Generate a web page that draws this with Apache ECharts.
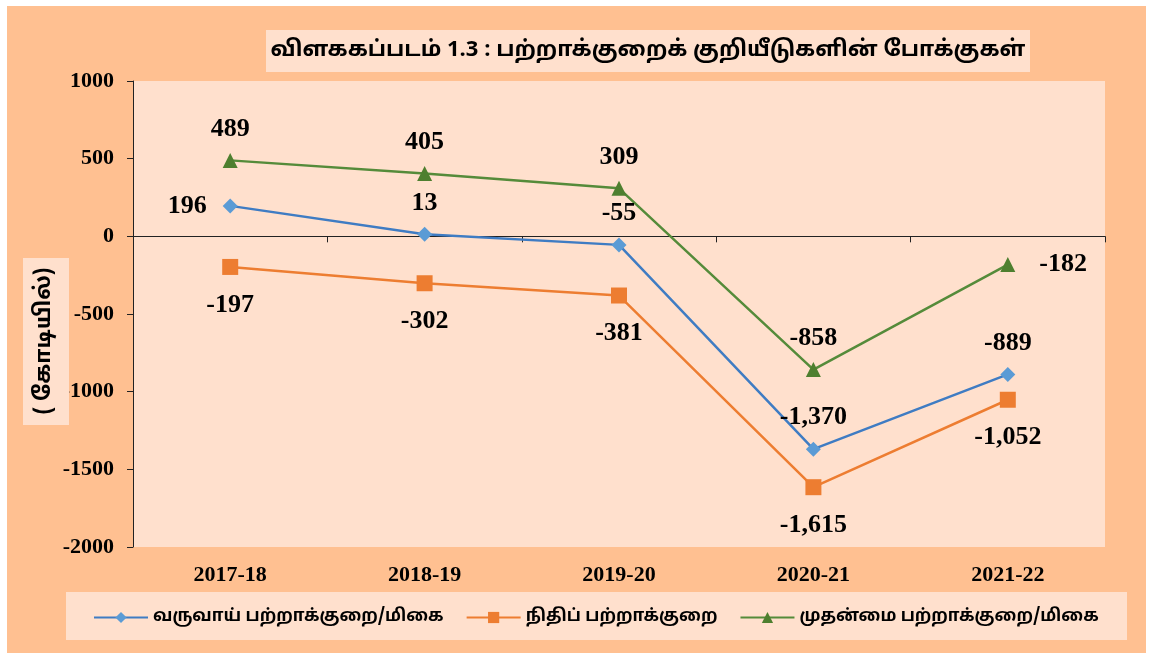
<!DOCTYPE html>
<html>
<head>
<meta charset="utf-8">
<title>பற்றாக்குறைக் குறியீடுகளின் போக்குகள்</title>
<script src="https://cdn.jsdelivr.net/npm/echarts@6/dist/echarts.min.js"></script>
<style>
  html, body { margin: 0; padding: 0; background: #ffffff; }
  #chart { width: 1160px; height: 653px; }
</style>
</head>
<body>
<div id="chart"></div>
<script>
  // data (Rs. crore)
  var years = ['2017-18', '2018-19', '2019-20', '2020-21', '2021-22'];
  var revenueDeficit = [196, 13, -55, -1370, -889];
  var fiscalDeficit = [-197, -302, -381, -1615, -1052];
  var primaryDeficit = [489, 405, 309, -858, -182];
  var seriesNames = ['வருவாய் பற்றாக்குறை/மிகை', 'நிதிப் பற்றாக்குறை', 'முதன்மை பற்றாக்குறை/மிகை'];
  var yTicks = { min: -2000, max: 1000, step: 500 };

  // where each value label sits
  var revenueLabelPos = ['left', 'top', 'top', 'top', 'top'];
  var fiscalLabelPos = ['bottom', 'bottom', 'bottom', 'bottom', 'bottom'];
  var primaryLabelPos = ['top', 'top', 'top', 'top', 'right'];

  var PEACH = '#FFC091';
  var LIGHT = '#FFE0CD';
  var SERIF = "'Liberation Serif', 'Times New Roman', serif";
  var TAMIL = "'Noto Sans Tamil', 'Lohit Tamil', 'Noto Sans', sans-serif";

  var labelGap = { left: 16, right: 24, top: 11, bottom: 17 };

  function fmt(v){
    return v.toLocaleString('en-US');
  }

  function makeData(values, positions){
    var out = [];
    for(var i = 0; i < values.length; i++){
      var p = positions[i];
      out.push({
        value: values[i],
        label: { position: p, distance: labelGap[p] }
      });
    }
    return out;
  }

  var labelStyle = {
    show: true,
    formatter: function(p){ return fmt(p.value); },
    fontFamily: SERIF,
    fontWeight: 'bold',
    fontSize: 26,
    color: '#000'
  };

  var chart = echarts.init(document.getElementById('chart'));

  var option = {
    backgroundColor: '#ffffff',
    animation: false,

    graphic: [
      { type: 'rect', z: -10, shape: { x: 7, y: 6, width: 1139, height: 647 }, style: { fill: PEACH } },
      { type: 'rect', z: -9, shape: { x: 266, y: 30, width: 764, height: 42 }, style: { fill: LIGHT } },
      { type: 'text', z: 5, x: 648, y: 52,
        style: { text: 'விளககப்படம் 1.3 : பற்றாக்குறைக் குறியீடுகளின் போக்குகள்',
                 fontFamily: TAMIL, fontWeight: 'bold', fontSize: 22, fill: '#000',
                 align: 'center', verticalAlign: 'middle' } },
      // y-axis name box sits over the labels, as in the source
      { type: 'rect', z: 20, shape: { x: 23, y: 258, width: 46, height: 167 }, style: { fill: LIGHT } },
      { type: 'text', z: 21, x: 46, y: 341, rotation: Math.PI / 2,
        style: { text: '( கோடியில்)', fontFamily: TAMIL, fontWeight: 'bold', fontSize: 22, fill: '#000',
                 align: 'center', verticalAlign: 'middle' } },
      { type: 'rect', z: -9, shape: { x: 66, y: 592, width: 1061, height: 48 }, style: { fill: LIGHT } }
    ],

    grid: {
      left: 133, right: 55, top: 81, bottom: 106,
      show: true, backgroundColor: LIGHT, borderWidth: 0
    },

    legend: {
      left: 88, top: 604,
      itemWidth: 54, itemHeight: 14, itemGap: 22,
      textStyle: { fontFamily: TAMIL, fontWeight: 'bold', fontSize: 17, color: '#000' },
      data: seriesNames
    },

    xAxis: [
      {
        type: 'category',
        data: years,
        position: 'bottom',
        axisLine: { show: false, onZero: false },
        axisTick: { show: false },
        axisLabel: { fontFamily: SERIF, fontWeight: 'bold', fontSize: 22, color: '#000', margin: 17 }
      },
      {
        type: 'category',
        data: years,
        position: 'bottom',
        axisLine: { show: true, onZero: true, lineStyle: { color: '#222', width: 1 } },
        axisTick: { show: true, length: 6, lineStyle: { color: '#222' } },
        axisLabel: { show: false }
      }
    ],

    yAxis: {
      type: 'value',
      min: yTicks.min, max: yTicks.max, interval: yTicks.step,
      axisLine: { show: true, lineStyle: { color: '#222', width: 1 } },
      axisTick: { show: true, length: 6, lineStyle: { color: '#222' } },
      splitLine: { show: false },
      axisLabel: {
        fontFamily: SERIF, fontWeight: 'bold', fontSize: 22, color: '#000', margin: 19,
        formatter: function(v){ return String(v); }
      }
    },

    series: [
      {
        name: seriesNames[0], type: 'line', xAxisIndex: 0,
        data: makeData(revenueDeficit, revenueLabelPos),
        symbol: 'diamond', symbolSize: 15,
        lineStyle: { color: '#3F7CC3', width: 2.5 },
        itemStyle: { color: '#5B9BD5' },
        label: labelStyle, z: 3
      },
      {
        name: seriesNames[1], type: 'line', xAxisIndex: 0,
        data: makeData(fiscalDeficit, fiscalLabelPos),
        symbol: 'rect', symbolSize: 16,
        lineStyle: { color: '#ED7D31', width: 2.5 },
        itemStyle: { color: '#ED7D31' },
        label: labelStyle, z: 3
      },
      {
        name: seriesNames[2], type: 'line', xAxisIndex: 0,
        data: makeData(primaryDeficit, primaryLabelPos),
        symbol: 'triangle', symbolSize: 15,
        lineStyle: { color: '#558B3A', width: 2.5 },
        itemStyle: { color: '#4E7F2F' },
        label: labelStyle, z: 3
      }
    ]
  };

  chart.setOption(option);
</script>
</body>
</html>
